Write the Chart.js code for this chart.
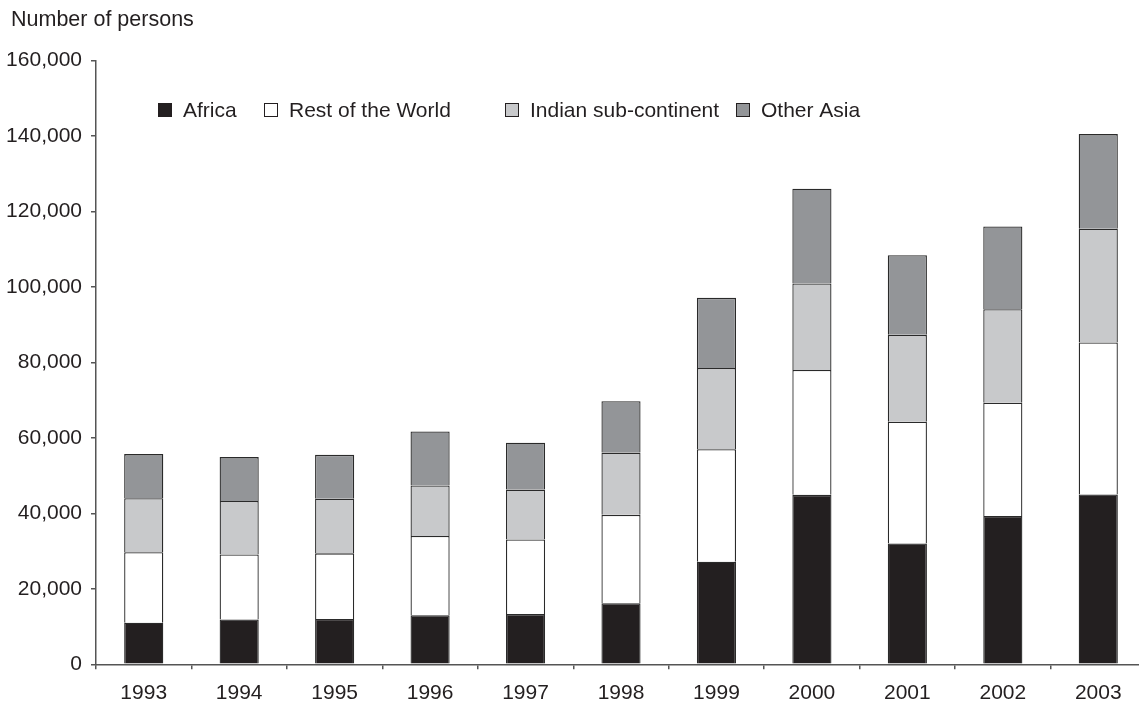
<!DOCTYPE html>
<html>
<head>
<meta charset="utf-8">
<script src="https://cdn.jsdelivr.net/npm/chart.js@4"></script>
<style>
  html, body { margin: 0; padding: 0; background: #fff; overflow: hidden; }
  #wrap { position: relative; width: 1146px; height: 704px; }
</style>
</head>
<body>
<div id="wrap"><canvas id="chart"></canvas></div>
<script>
// years on the x axis
const years = ['1993', '1994', '1995', '1996', '1997', '1998', '1999', '2000', '2001', '2002', '2003'];

// persons per region
const africa      = [11000, 11900, 12000, 13000, 13300, 16200, 27200, 44900, 32000, 39300, 45000];
const restOfWorld = [18700, 17200, 17400, 21000, 19800, 23400, 29800, 33100, 32300, 30000, 40300];
const indianSub   = [14300, 14200, 14500, 13400, 13200, 16500, 21500, 22900, 23000, 24800, 30100];
const otherAsia   = [11700, 11600, 11600, 14300, 12400, 13600, 18600, 25100, 21100, 21900, 25100];

const seriesNames = ['Africa', 'Rest of the World', 'Indian sub-continent', 'Other Asia'];
const seriesColours = ['#231f20', '#ffffff', '#c8c9cb', '#939598'];

const axisTitle = 'Number of persons';
const yTicks = { min: 0, max: 160000, step: 20000 };

const FONT = '"Liberation Sans", Arial, Helvetica, sans-serif';
const INK = '#231f20';

// legend + axis caption drawn by hand (the original has uneven legend spacing)
const captions = {
    id: 'captions',
    afterDraw(chart) {
        const ctx = chart.ctx;
        ctx.save();
        ctx.font = '21.5px ' + FONT;
        ctx.fillStyle = INK;
        ctx.textBaseline = 'middle';
        ctx.textAlign = 'left';
        ctx.fillText(axisTitle, 11, 20);

        ctx.font = '21px ' + FONT;
        const boxX = [158, 264, 505, 736];
        const midY = 110;
        chart.data.datasets.forEach((ds, i) => {
            ctx.fillStyle = ds.backgroundColor;
            ctx.fillRect(boxX[i], midY - 7, 14, 14);
            ctx.strokeStyle = '#231f20';
            ctx.lineWidth = 1;
            ctx.strokeRect(boxX[i] + 0.5, midY - 6.5, 13, 13);
            ctx.fillStyle = INK;
            ctx.fillText(ds.label, boxX[i] + 25, midY + 1);
        });
        ctx.restore();
    }
};

const values = [africa, restOfWorld, indianSub, otherAsia];

new Chart(document.getElementById('chart'), {
    type: 'bar',
    data: {
        labels: years,
        datasets: values.map((v, i) => ({
            label: seriesNames[i],
            data: v,
            backgroundColor: seriesColours[i],
            borderColor: '#2a2a2a',
            borderWidth: 1.3,
            barPercentage: 0.41,
            categoryPercentage: 1.0
        }))
    },
    options: {
        responsive: true,
        maintainAspectRatio: false,
        animation: false,
        layout: { padding: { top: 60.5, left: 0, right: 0, bottom: 0 } },
        plugins: {
            legend: { display: false },
            tooltip: { enabled: false }
        },
        scales: {
            x: {
                stacked: true,
                offset: true,
                grid: { display: true, drawOnChartArea: false, drawTicks: true, tickLength: 5, color: '#555', lineWidth: 1.5, offset: true },
                border: { display: true, color: '#555', width: 1.5 },
                ticks: { color: INK, font: { family: FONT, size: 21 }, padding: 11.5, maxRotation: 0, autoSkip: false },
                afterFit(scale) { scale.height = 39.7; }
            },
            y: {
                stacked: true,
                min: yTicks.min,
                max: yTicks.max,
                grid: { display: true, drawOnChartArea: false, drawTicks: true, tickLength: 5, color: '#555', lineWidth: 1.5 },
                border: { display: true, color: '#555', width: 1.5 },
                ticks: {
                    stepSize: yTicks.step,
                    color: INK,
                    font: { family: FONT, size: 21 },
                    padding: 9,
                    callback: v => v.toLocaleString('en-US')
                },
                afterFit(scale) { scale.width = 96; }
            }
        }
    },
    plugins: [captions]
});
</script>
</body>
</html>
